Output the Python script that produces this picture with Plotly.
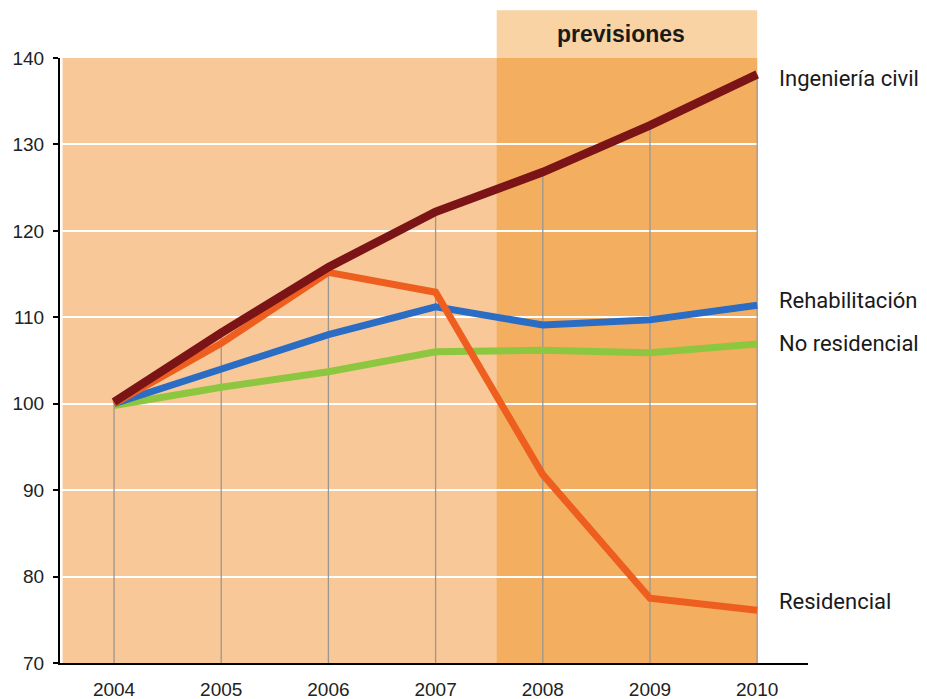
import plotly.graph_objects as go

years = [2004, 2005, 2006, 2007, 2008, 2009, 2010]
ingenieria_civil = [100.2, 108.2, 115.8, 122.2, 126.8, 132.2, 138.1]
residencial = [100.0, 107.0, 115.2, 112.9, 91.8, 77.5, 76.1]
rehabilitacion = [100.0, 103.9, 108.0, 111.2, 109.1, 109.7, 111.4]
no_residencial = [99.8, 101.9, 103.7, 106.0, 106.2, 105.9, 106.9]
y_ticks = [70, 80, 90, 100, 110, 120, 130, 140]
forecast_start = 2007.57
forecast_label = "previsiones"

series = [
    ("No residencial", no_residencial, "#8DC63F", 7, 1),
    ("Rehabilitación", rehabilitacion, "#2B6CC4", 7, 5),
    ("Residencial", residencial, "#EE5E1E", 7, 9),
    ("Ingeniería civil", ingenieria_civil, "#7A1416", 8.5, -4),
]

fig = go.Figure()

# drop lines from each year's top value to the axis
drop_x, drop_y = [], []
for i, yr in enumerate(years):
    top = max(s[1][i] for s in series)
    drop_x += [yr, yr, None]
    drop_y += [y_ticks[0], top, None]
fig.add_trace(go.Scatter(x=drop_x, y=drop_y, mode="lines",
                         line=dict(color="#9C9690", width=1.3),
                         hoverinfo="skip", showlegend=False))

for name, vals, color, w, shift in series:
    fig.add_trace(go.Scatter(x=years, y=vals, mode="lines", name=name,
                             line=dict(color=color, width=w),
                             showlegend=False))
    fig.add_annotation(x=years[-1], y=vals[-1], text=name, showarrow=False,
                       xanchor="left", yanchor="middle", xshift=20, yshift=shift,
                       font=dict(family="Roboto", size=22, color="#1a1a1a"))

# backgrounds
fig.add_shape(type="rect", xref="x", yref="paper", x0=2003.52, x1=years[-1],
              y0=0, y1=1, fillcolor="#F8C898", line_width=0, layer="below")
fig.add_shape(type="rect", xref="x", yref="paper", x0=forecast_start, x1=years[-1],
              y0=0, y1=1, fillcolor="#F4AE60", line_width=0, layer="below")
fig.add_shape(type="rect", xref="x", yref="paper", x0=forecast_start, x1=years[-1],
              y0=1, y1=1.079, fillcolor="#F9D3A4", line_width=0, layer="below")
fig.add_annotation(x=(forecast_start + years[-1]) / 2, xref="x", y=1.04, yref="paper",
                   text="<b>" + forecast_label + "</b>", showarrow=False,
                   xanchor="center", yanchor="middle", xshift=-6,
                   font=dict(family="Liberation Sans", size=23, color="#1a1a1a"))

fig.update_layout(
    width=919, height=691,
    margin=dict(l=52, r=119, t=50, b=36),
    paper_bgcolor="white", plot_bgcolor="rgba(0,0,0,0)",
    font=dict(family="Liberation Sans", size=19, color="#222"),
    xaxis=dict(range=[2003.496, 2010.474], tickvals=years,
               ticktext=[str(y) for y in years], showgrid=False, zeroline=False,
               showline=True, linecolor="black", linewidth=2, ticks="",
               ticklabelstandoff=8, automargin=False),
    yaxis=dict(range=[70, 140], tickvals=y_ticks, showgrid=True,
               gridcolor="white", gridwidth=1.5, zeroline=False,
               showline=True, linecolor="black", linewidth=2,
               ticks="outside", ticklen=5, tickcolor="black", tickwidth=2,
               ticklabelstandoff=5, automargin=False),
)

fig.write_html("out.html")
